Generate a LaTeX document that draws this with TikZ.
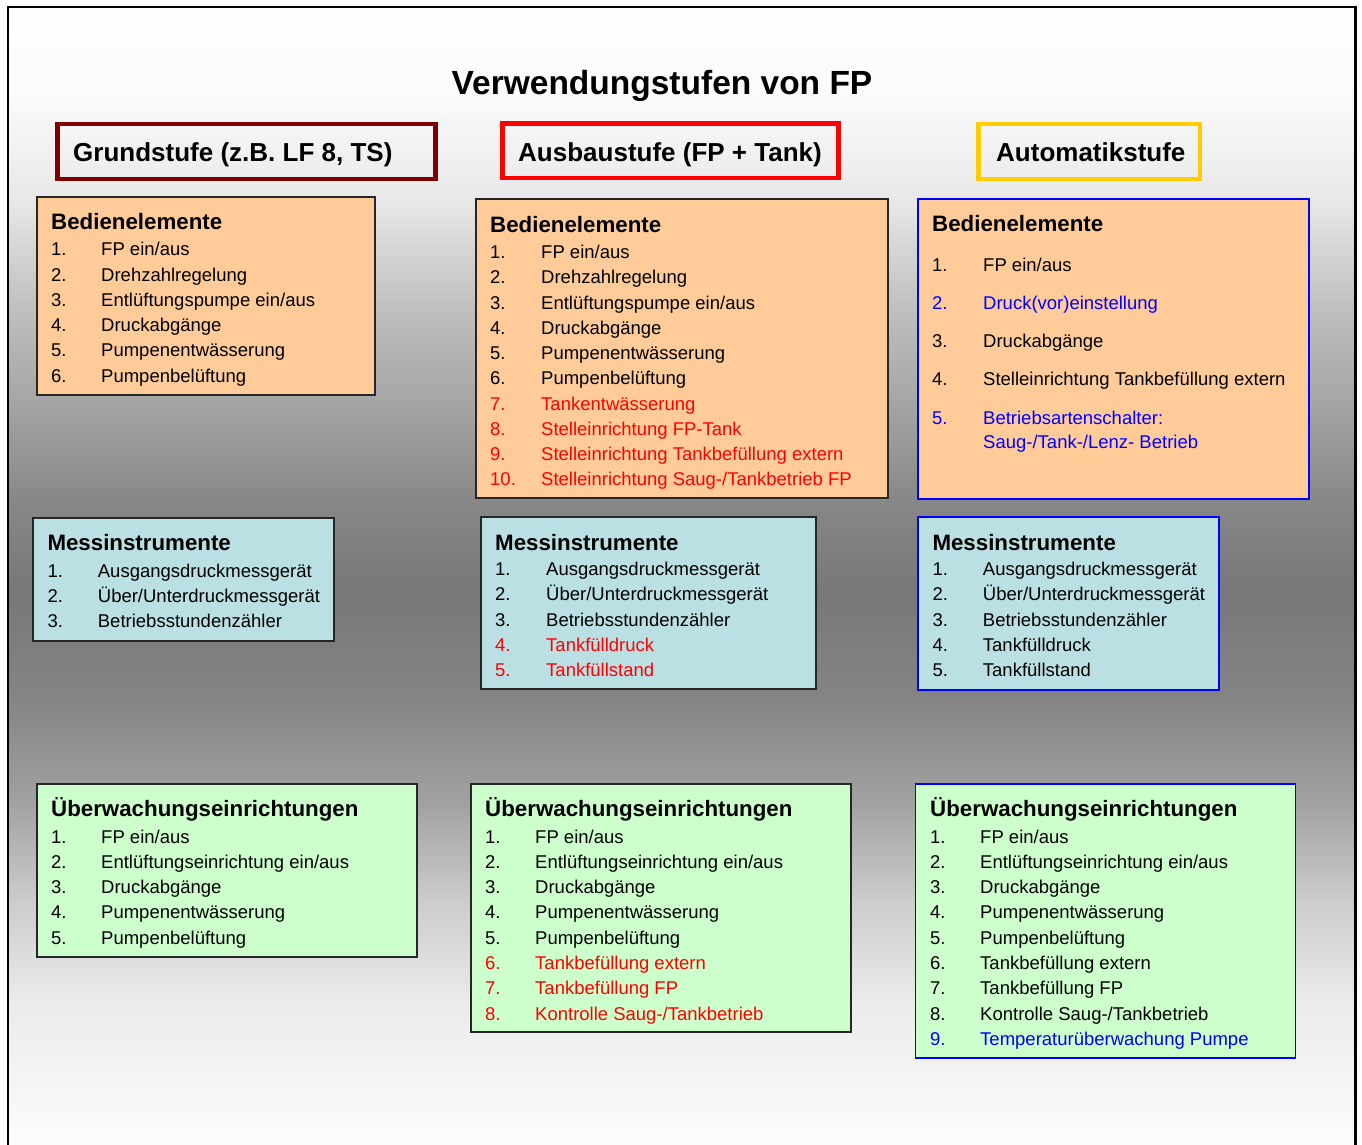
\documentclass[tikz,border=0pt]{standalone}
\usepackage{fontspec}
\setmainfont{Liberation Sans}
\definecolor{peach}{HTML}{FFCC99}
\definecolor{messblue}{HTML}{BBE0E3}
\definecolor{lgreen}{HTML}{CCFFCC}
\definecolor{darkred}{HTML}{800000}
\definecolor{gold}{HTML}{FFCC00}
\newcommand\numx{0}
\newcommand\txtx{0}
\newcommand\li[5][black]{%
  \node[itm,text=#1] (#2n) at (\numx,#3) {#4};
  \node[itm,text=#1] (#2t) at (\txtx,#3) {#5};}
\begin{document}
\begin{tikzpicture}[x=1pt,y=-1pt,
  itm/.style={anchor=base west, inner sep=0pt, font=\fontsize{18.5}{22}\selectfont},
  hd/.style={anchor=base west, inner sep=0pt, font=\bfseries\fontsize{22.3}{26}\selectfont},
  htxt/.style={anchor=base west, inner sep=0pt, font=\bfseries\fontsize{26}{30}\selectfont},
  hbox/.style={line width=4.5pt, anchor=north west, inner sep=0pt, outer sep=0pt},
  box/.style={draw=black!85, line width=1.8pt, anchor=north west, inner sep=0pt, outer sep=0pt},
  bbox/.style={draw=blue, line width=1.8pt, anchor=north west, inner sep=0pt, outer sep=0pt}]
\useasboundingbox (0,0) rectangle (1362,1145);
% background gradient
\foreach \ya/\pa/\yb/\pb in {0/100/100/98, 100/98/200/91, 200/91/300/76, 300/76/400/65, 400/65/500/53, 500/53/590/47, 590/47/700/52, 700/52/800/63, 800/63/900/80, 900/80/1000/92, 1000/92/1145/99}{
  \shade[top color=white!\pa!black, bottom color=white!\pb!black] (8,\ya) rectangle (1355,{\yb+1});
}
% frame
\draw[line width=2.5pt] (8,1150) -- (8,7) -- (1355.3,7) -- (1355.3,1150);
% title
\node[anchor=base, inner sep=0pt, font=\bfseries\fontsize{33.5}{40}\selectfont] (title) at (662,95) {Verwendungstufen von FP};
% headers
\node[hbox, draw=darkred, minimum width=378pt, minimum height=55pt] (h1) at (57.5,124) {};
\node[htxt] (h1t) at (73,161) {Grundstufe (z.B. LF 8, TS)};
\node[hbox, draw=red, minimum width=336pt, minimum height=54.5pt] (h2) at (502.5,123.5) {};
\node[htxt] (h2t) at (518,161) {Ausbaustufe (FP + Tank)};
\node[hbox, draw=gold, minimum width=221.5pt, minimum height=55pt] (h3) at (978.5,124) {};
\node[htxt] (h3t) at (996,161) {Automatikstufe};
% boxes (line centres)
\node[box, fill=peach, minimum width=338pt, minimum height=198pt] (bedL) at (37,197) {};
\node[box, fill=peach, minimum width=412pt, minimum height=299pt] (bedM) at (476,199) {};
\node[bbox, fill=peach, minimum width=391pt, minimum height=300pt] (bedR) at (918,199) {};
\node[box, fill=messblue, minimum width=301pt, minimum height=123pt] (mesL) at (33,518) {};
\node[box, fill=messblue, minimum width=335pt, minimum height=172pt] (mesM) at (481,517) {};
\node[bbox, fill=messblue, minimum width=301pt, minimum height=173pt] (mesR) at (918,517) {};
\node[box, fill=lgreen, minimum width=380pt, minimum height=173pt] (ubwL) at (37,784) {};
\node[box, fill=lgreen, minimum width=380pt, minimum height=248pt] (ubwM) at (471,784) {};
\node[bbox, fill=lgreen, minimum width=380pt, minimum height=274pt] (ubwR) at (915.5,784) {};
% Bedienelemente left
\node[hd] (bedLh) at (51,229) {Bedienelemente};
\renewcommand\numx{51}\renewcommand\txtx{101}
\li{bl1}{255.7}{1.}{FP ein/aus}
\li{bl2}{281}{2.}{Drehzahlregelung}
\li{bl3}{306.3}{3.}{Entlüftungspumpe ein/aus}
\li{bl4}{331.6}{4.}{Druckabgänge}
\li{bl5}{356.9}{5.}{Pumpenentwässerung}
\li{bl6}{382.2}{6.}{Pumpenbelüftung}
% Bedienelemente middle
\node[hd] (bedMh) at (490,232) {Bedienelemente};
\renewcommand\numx{490}\renewcommand\txtx{541}
\li{bm1}{258.7}{1.}{FP ein/aus}
\li{bm2}{283.95}{2.}{Drehzahlregelung}
\li{bm3}{309.2}{3.}{Entlüftungspumpe ein/aus}
\li{bm4}{334.45}{4.}{Druckabgänge}
\li{bm5}{359.7}{5.}{Pumpenentwässerung}
\li{bm6}{384.95}{6.}{Pumpenbelüftung}
\li[red]{bm7}{410.2}{7.}{Tankentwässerung}
\li[red]{bm8}{435.45}{8.}{Stelleinrichtung FP-Tank}
\li[red]{bm9}{460.7}{9.}{Stelleinrichtung Tankbefüllung extern}
\li[red]{bm10}{485.95}{10.}{Stelleinrichtung Saug-/Tankbetrieb FP}
% Bedienelemente right
\node[hd] (bedRh) at (932,231) {Bedienelemente};
\renewcommand\numx{932}\renewcommand\txtx{983}
\li{br1}{271}{1.}{FP ein/aus}
\li[blue]{br2}{309.5}{2.}{Druck(vor)einstellung}
\li{br3}{347}{3.}{Druckabgänge}
\li{br4}{385}{4.}{Stelleinrichtung Tankbefüllung extern}
\li[blue]{br5}{424.3}{5.}{Betriebsartenschalter:}
\node[itm, text=blue] (br5b) at (983,448.3) {Saug-/Tank-/Lenz- Betrieb};
% Messinstrumente left
\node[hd] (mesLh) at (47.3,550.7) {Messinstrumente};
\renewcommand\numx{47.3}\renewcommand\txtx{97.7}
\li{ml1}{577.3}{1.}{Ausgangsdruckmessgerät}
\li{ml2}{602.7}{2.}{Über/Unterdruckmessgerät}
\li{ml3}{627.9}{3.}{Betriebsstundenzähler}
% Messinstrumente middle
\node[hd] (mesMh) at (495,550) {Messinstrumente};
\renewcommand\numx{495}\renewcommand\txtx{546}
\li{mm1}{575.7}{1.}{Ausgangsdruckmessgerät}
\li{mm2}{600.9}{2.}{Über/Unterdruckmessgerät}
\li{mm3}{626.1}{3.}{Betriebsstundenzähler}
\li[red]{mm4}{651.3}{4.}{Tankfülldruck}
\li[red]{mm5}{676.5}{5.}{Tankfüllstand}
% Messinstrumente right
\node[hd] (mesRh) at (932.3,550) {Messinstrumente};
\renewcommand\numx{932.3}\renewcommand\txtx{982.7}
\li{mr1}{575.7}{1.}{Ausgangsdruckmessgerät}
\li{mr2}{600.9}{2.}{Über/Unterdruckmessgerät}
\li{mr3}{626.1}{3.}{Betriebsstundenzähler}
\li{mr4}{651.3}{4.}{Tankfülldruck}
\li{mr5}{676.5}{5.}{Tankfüllstand}
% Ueberwachung left
\node[hd] (ubwLh) at (51,816.7) {Überwachungseinrichtungen};
\renewcommand\numx{51}\renewcommand\txtx{101}
\li{ul1}{843}{1.}{FP ein/aus}
\li{ul2}{868.3}{2.}{Entlüftungseinrichtung ein/aus}
\li{ul3}{893.6}{3.}{Druckabgänge}
\li{ul4}{918.9}{4.}{Pumpenentwässerung}
\li{ul5}{944.2}{5.}{Pumpenbelüftung}
% Ueberwachung middle
\node[hd] (ubwMh) at (485,816.7) {Überwachungseinrichtungen};
\renewcommand\numx{485}\renewcommand\txtx{535}
\li{um1}{843}{1.}{FP ein/aus}
\li{um2}{868.3}{2.}{Entlüftungseinrichtung ein/aus}
\li{um3}{893.6}{3.}{Druckabgänge}
\li{um4}{918.9}{4.}{Pumpenentwässerung}
\li{um5}{944.2}{5.}{Pumpenbelüftung}
\li[red]{um6}{969.5}{6.}{Tankbefüllung extern}
\li[red]{um7}{994.8}{7.}{Tankbefüllung FP}
\li[red]{um8}{1020.1}{8.}{Kontrolle Saug-/Tankbetrieb}
% Ueberwachung right
\node[hd] (ubwRh) at (930,816.7) {Überwachungseinrichtungen};
\renewcommand\numx{930}\renewcommand\txtx{980}
\li{ur1}{843}{1.}{FP ein/aus}
\li{ur2}{868.3}{2.}{Entlüftungseinrichtung ein/aus}
\li{ur3}{893.6}{3.}{Druckabgänge}
\li{ur4}{918.9}{4.}{Pumpenentwässerung}
\li{ur5}{944.2}{5.}{Pumpenbelüftung}
\li{ur6}{969.5}{6.}{Tankbefüllung extern}
\li{ur7}{994.8}{7.}{Tankbefüllung FP}
\li{ur8}{1020.1}{8.}{Kontrolle Saug-/Tankbetrieb}
\li[blue]{ur9}{1045.4}{9.}{Temperaturüberwachung Pumpe}
\end{tikzpicture}
\end{document}
